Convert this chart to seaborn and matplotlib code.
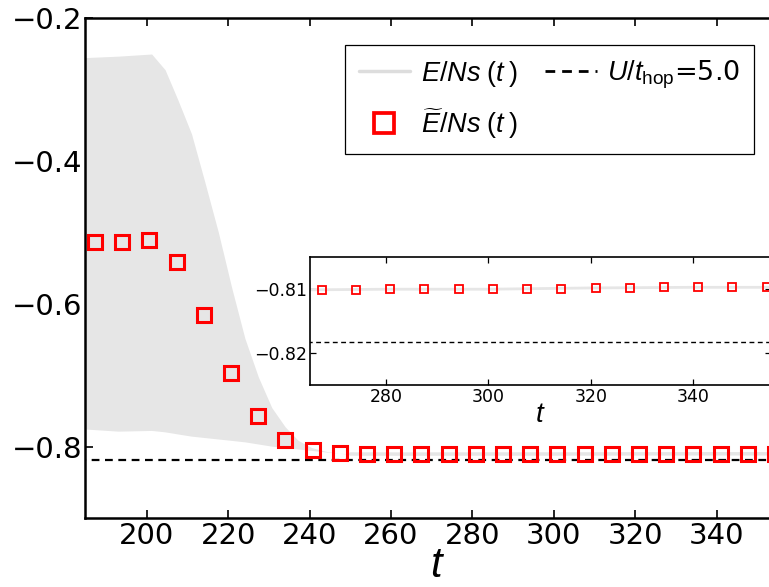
import numpy as np
import pandas as pd
import matplotlib
matplotlib.use('Agg')
import matplotlib.pyplot as plt
import seaborn as sns
from matplotlib.lines import Line2D

# ---------------- data ----------------
t_sq = [187.30, 193.98, 200.66, 207.34, 214.02, 220.70, 227.38, 234.06, 240.74,
        247.42, 254.10, 260.78, 267.46, 274.14, 280.82, 287.50, 294.18, 300.86,
        307.54, 314.22, 320.90, 327.58, 334.26, 340.94, 347.62, 354.30]
e_sq = [-0.513, -0.513, -0.511, -0.541, -0.616, -0.696, -0.757, -0.791, -0.8046,
        -0.8083, -0.8098, -0.8100, -0.8101, -0.8101, -0.8100, -0.8100, -0.8100,
        -0.8100, -0.8100, -0.8100, -0.8098, -0.8098, -0.8097, -0.8097, -0.8097,
        -0.8097]

env_t = [184.9, 193.0, 201.2, 204.5, 207.7, 211.0, 214.3, 217.6, 220.9, 224.1,
         227.4, 230.7, 234.0, 237.2, 240.5, 243.8, 247.0, 250.0]
env_hi = [-0.255, -0.253, -0.250, -0.272, -0.315, -0.362, -0.430, -0.500, -0.578,
          -0.648, -0.702, -0.745, -0.772, -0.791, -0.801, -0.806, -0.809, -0.8095]
env_lo = [-0.775, -0.778, -0.777, -0.779, -0.782, -0.785, -0.787, -0.789, -0.791,
          -0.793, -0.796, -0.799, -0.801, -0.803, -0.805, -0.807, -0.809, -0.8102]

tail_t = [250.0, 265.0, 280.0, 300.0, 320.0, 340.0, 360.0]
tail_e = [-0.8100, -0.8101, -0.8100, -0.8100, -0.8098, -0.8097, -0.8097]

u_ref = -0.8182
t_ref = [180.0, 360.0]

xticks_main = [200, 220, 240, 260, 280, 300, 320, 340]
yticks_main = [-0.8, -0.6, -0.4, -0.2]
xticks_ins = [280, 300, 320, 340]
yticks_ins = [-0.82, -0.81]

lbl_E = r'$E/Ns\;(t\;)$'
lbl_Et = r'$\widetilde{E}/Ns\;(t\;)$'
lbl_U = r'$U/t_{\mathrm{hop}}$=5.0'

# ---------------- style ----------------
sns.set_style('ticks')
plt.rcParams['font.family'] = ['DejaVu Sans']
plt.rcParams['mathtext.fontset'] = 'custom'
plt.rcParams['mathtext.rm'] = 'Liberation Sans'
plt.rcParams['mathtext.it'] = 'Liberation Sans:italic'
plt.rcParams['mathtext.bf'] = 'Liberation Sans:bold'
for k in ['text.color', 'axes.labelcolor', 'xtick.color', 'ytick.color',
          'axes.edgecolor']:
    plt.rcParams[k] = 'black'

GRAY = '#e6e6e6'
RED = '#ff0000'

df_tail = pd.DataFrame({'t': tail_t, 'e': tail_e})
df_ref = pd.DataFrame({'t': t_ref, 'e': [u_ref, u_ref]})

fig = plt.figure(figsize=(7.69, 5.87), dpi=100)
W, H = 769.0, 587.0

# main axes (right edge extends past figure, as in the cropped reference)
L, R, T, B = 85.3, 790.0, 18.3, 518.3
ax = fig.add_axes([L / W, (H - B) / H, (R - L) / W, (B - T) / H])
x_left = 184.9
x_right = x_left + (R - L) / 4.071

ax.fill_between(env_t, env_lo, env_hi, color=GRAY, lw=0, zorder=1)
sns.lineplot(data=df_tail, x='t', y='e', ax=ax, color=GRAY, lw=2.5, zorder=1)
sns.lineplot(data=df_ref, x='t', y='e', ax=ax, color='black', lw=1.6,
             zorder=2).lines[-1].set_dashes((3.5, 2.5))
ax.plot(t_sq, e_sq, ls='none', marker='s', ms=9.6, mfc='none', mec=RED,
        mew=2.2, zorder=3)

ax.set_xlim(x_left, x_right)
ax.set_ylim(-0.9, -0.2)
ax.set_xticks(xticks_main)
ax.set_yticks(yticks_main)
ax.tick_params(direction='in', length=5.8, width=1.2, labelsize=21, pad=3,
               top=True, right=True)
ax.tick_params(axis='y', pad=2)
for s in ax.spines.values():
    s.set_linewidth(1.8)
ax.set_xlabel(r'$t$', fontsize=30, labelpad=-5)
ax.set_ylabel('')

handles = [Line2D([], [], color='#dddddd', lw=2.5),
           Line2D([], [], ls='none', marker='s', ms=15, mfc='none', mec=RED, mew=2.7),
           Line2D([], [], color='black', lw=2.0, ls=(0, (3.5, 2.5)))]
leg = ax.legend(handles, [lbl_E, lbl_Et, lbl_U], ncol=2, fontsize=19.5,
                loc='upper left', bbox_to_anchor=((345 - L) / (R - L), (B - 45) / (B - T)),
                borderaxespad=0, frameon=True, fancybox=False, framealpha=1,
                edgecolor='black', handlelength=1.9, handletextpad=0.4,
                columnspacing=1.0, labelspacing=0.65, borderpad=0.5)
leg.get_frame().set_linewidth(0.9)

# inset
iL, iR, iT, iB = 310.3, 771.0, 257.3, 385.0
axi = fig.add_axes([iL / W, (H - iB) / H, (iR - iL) / W, (iB - iT) / H])
xi_left = 265.25
xi_right = xi_left + (iR - iL) / 5.125
sns.lineplot(data=df_tail, x='t', y='e', ax=axi, color=GRAY, lw=2.0, zorder=1)
sns.lineplot(data=df_ref, x='t', y='e', ax=axi, color='black', lw=1.0,
             zorder=2).lines[-1].set_dashes((3.5, 2.5))
axi.plot(t_sq, e_sq, ls='none', marker='s', ms=5.2, mfc='none', mec=RED,
         mew=1.3, zorder=3)
axi.set_xlim(xi_left, xi_right)
axi.set_ylim(-0.825, -0.805)
axi.set_xticks(xticks_ins)
axi.set_yticks(yticks_ins)
axi.tick_params(direction='in', length=4.3, width=0.9, labelsize=12.5, pad=2,
                top=True, right=True)
for s in axi.spines.values():
    s.set_linewidth(1.2)
axi.set_xlabel(r'$t$', fontsize=20, labelpad=-4)
axi.set_ylabel('')

fig.savefig('out.png', dpi=100)
